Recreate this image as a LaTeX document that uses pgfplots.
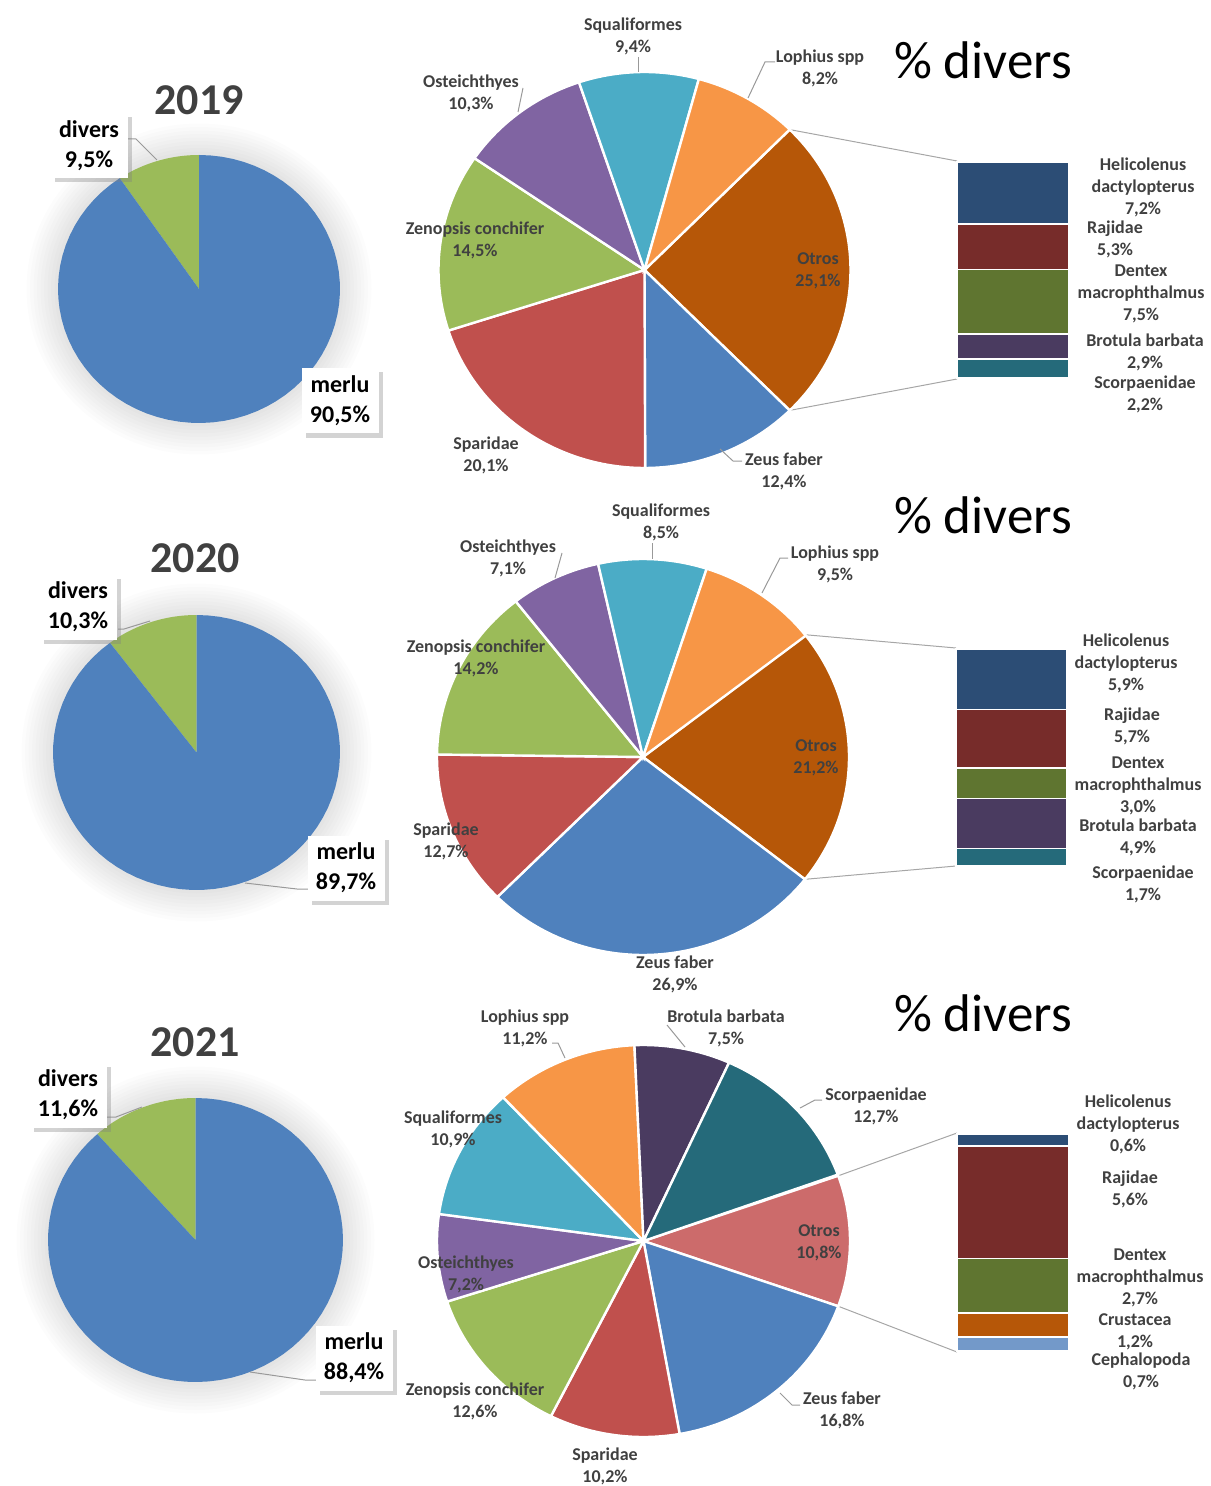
\documentclass[border=0pt]{standalone}
\usepackage{pgfplots}
\pgfplotsset{compat=1.18}
\usepackage{fontspec}
\setmainfont{Carlito}
\usetikzlibrary{shadows}

\definecolor{cBlue}{HTML}{4F81BD}
\definecolor{cRed}{HTML}{C0504D}
\definecolor{cGreen}{HTML}{9BBB59}
\definecolor{cPurple}{HTML}{8064A2}
\definecolor{cAqua}{HTML}{4BACC6}
\definecolor{cOrange}{HTML}{F79646}
\definecolor{cDkOrange}{HTML}{B65708}
\definecolor{cDkBlue}{HTML}{2C4D75}
\definecolor{cDkRed}{HTML}{772C2A}
\definecolor{cDkGreen}{HTML}{5F7530}
\definecolor{cDkPurple}{HTML}{4A3B60}
\definecolor{cDkTeal}{HTML}{256A7A}
\definecolor{cPink}{HTML}{CC6B6B}
\definecolor{cLtBlue}{HTML}{7399C9}
\definecolor{lbl}{HTML}{404040}

% slices drawn clockwise from #1 (degrees); #2 = value/colour list
\newcommand{\pieslices}[3]{%
  \xdef\cum{#1}%
  \foreach \v/\col in {#2}{%
    \pgfmathsetmacro\a{\cum}%
    \pgfmathsetmacro\b{\cum-3.6*\v}%
    \edef\tmp{\noexpand\addplot[fill=\col,#3,domain=\b:\a,samples=72]
      ({cos(x)},{sin(x)}) -- (axis cs:0,0) -- cycle;}%
    \tmp
    \xdef\cum{\b}%
  }%
}

\pgfplotsset{
  pieax/.style={scale only axis, hide axis, clip=false, anchor=center,
    xmin=-1, xmax=1, ymin=-1, ymax=1},
  barax/.style={scale only axis, hide axis, clip=false, anchor=north west,
    ybar stacked, xmin=-0.5, xmax=0.5, ymin=0,
    every axis plot/.append style={draw=white, line width=0.8pt}},
}

\tikzset{
  px/.style={x=0.5pt, y=-0.5pt},
  lab/.style={align=center, font=\bfseries\fontsize{9}{11}\selectfont, text=lbl, inner sep=0pt},
  box/.style={fill=white, align=center, font=\bfseries\fontsize{12}{15}\selectfont,
    minimum width=38.5pt, minimum height=32.5pt, inner sep=0pt,
    drop shadow={shadow xshift=2pt, shadow yshift=-2pt, opacity=0.35}},
  title/.style={font=\bfseries\fontsize{22}{26}\selectfont, text=lbl},
  big/.style={font=\fontsize{26.5}{30}\selectfont},
  leader/.style={draw=black!40, line width=0.5pt},
  conn/.style={draw=black!35, line width=0.5pt},
}

\newcommand{\glow}[4]{%
  \foreach \k in {1,...,9}
    \fill[black, opacity=0.011] (#1,#2) ellipse [x radius={#3+3.5*\k}, y radius={#4+3.5*\k}];
}

\begin{document}
\begin{tikzpicture}
\begin{scope}[px]
\path[use as bounding box] (0,0) rectangle (1210,1486);
\glow{199}{289}{141}{134}
\glow{196.5}{752.5}{143.5}{137.5}
\glow{195.5}{1240}{147.5}{142}
\draw[conn] (789.7,129.6) -- (957,161);
\draw[conn] (789.7,410.4) -- (957,379);
\draw[conn] (805,634.7) -- (956,648);
\draw[conn] (805,879.3) -- (956,866);
\draw[conn] (838.2,1175.8) -- (957,1133);
\draw[conn] (838.2,1306.2) -- (957,1352);
\end{scope}

% ================= 2019 =================
\begin{axis}[pieax, at={({199*0.5pt},{-289*0.5pt})}, width=141pt, height=134pt]
  \pieslices{124.2}{9.5/cGreen, 90.5/cBlue}{draw=none}
\end{axis}
\begin{axis}[pieax, at={({644.5*0.5pt},{-270*0.5pt})}, width=206pt, height=198pt]
  \pieslices{45.18}{25.1/cDkOrange, 12.4/cBlue, 20.1/cRed, 14.5/cGreen,
    10.3/cPurple, 9.4/cAqua, 8.2/cOrange}{draw=white, line width=1.2pt}
\end{axis}
\begin{axis}[barax, at={({957*0.5pt},{-162*0.5pt})}, width=56pt, height=108pt, bar width=56pt, ymax=25.1]
  \addplot[fill=cDkTeal] coordinates {(0,2.2)};
  \addplot[fill=cDkPurple] coordinates {(0,2.9)};
  \addplot[fill=cDkGreen] coordinates {(0,7.5)};
  \addplot[fill=cDkRed] coordinates {(0,5.3)};
  \addplot[fill=cDkBlue] coordinates {(0,7.2)};
\end{axis}

% ================= 2020 =================
\begin{axis}[pieax, at={({196.5*0.5pt},{-752.5*0.5pt})}, width=143.5pt, height=137.5pt]
  \pieslices{127.08}{10.3/cGreen, 89.7/cBlue}{draw=none}
\end{axis}
\begin{axis}[pieax, at={({643*0.5pt},{-757*0.5pt})}, width=206pt, height=198pt]
  \pieslices{38.16}{21.2/cDkOrange, 26.9/cBlue, 12.7/cRed, 14.2/cGreen,
    7.1/cPurple, 8.5/cAqua, 9.5/cOrange}{draw=white, line width=1.2pt}
\end{axis}
\begin{axis}[barax, at={({956*0.5pt},{-649*0.5pt})}, width=55.5pt, height=108.5pt, bar width=55.5pt, ymax=21.2]
  \addplot[fill=cDkTeal] coordinates {(0,1.7)};
  \addplot[fill=cDkPurple] coordinates {(0,4.9)};
  \addplot[fill=cDkGreen] coordinates {(0,3.0)};
  \addplot[fill=cDkRed] coordinates {(0,5.7)};
  \addplot[fill=cDkBlue] coordinates {(0,5.9)};
\end{axis}

% ================= 2021 =================
\begin{axis}[pieax, at={({195.5*0.5pt},{-1240*0.5pt})}, width=147.5pt, height=142pt]
  \pieslices{131.76}{11.6/cGreen, 88.4/cBlue}{draw=none}
\end{axis}
\begin{axis}[pieax, at={({643.5*0.5pt},{-1241*0.5pt})}, width=206.5pt, height=196pt]
  \pieslices{19.44}{10.8/cPink, 16.8/cBlue, 10.2/cRed, 12.6/cGreen,
    7.2/cPurple, 10.9/cAqua, 11.2/cOrange, 7.5/cDkPurple, 12.7/cDkTeal}{draw=white, line width=1.2pt}
\end{axis}
\begin{axis}[barax, at={({957*0.5pt},{-1134*0.5pt})}, width=56pt, height=108.5pt, bar width=56pt, ymax=10.8]
  \addplot[fill=cLtBlue] coordinates {(0,0.7)};
  \addplot[fill=cDkOrange] coordinates {(0,1.2)};
  \addplot[fill=cDkGreen] coordinates {(0,2.7)};
  \addplot[fill=cDkRed] coordinates {(0,5.6)};
  \addplot[fill=cDkBlue] coordinates {(0,0.6)};
\end{axis}

\begin{scope}[px]
% ---- 2019 labels
\node[title] at (199,100) {2019};
\draw[leader] (128,139) -- (136,139) -- (157,160);
\node[box] at (89,146) {divers\\9,5\%};
\node[box] at (340,401) {merlu\\90,5\%};
\draw[leader] (638,57) -- (638,72);
\draw[leader] (775,62) -- (765,62) -- (748,98);
\draw[leader] (523,88) -- (518,112);
\draw[leader] (742,461) -- (733,461) -- (720,449);
\node[lab] at (633,36) {Squaliformes\\9,4\%};
\node[lab] at (820,68) {Lophius spp\\8,2\%};
\node[lab] at (471,93.5) {Osteichthyes\\10,3\%};
\node[lab] at (475,240.5) {Zenopsis conchifer\\14,5\%};
\node[lab] at (818,270.5) {Otros\\25,1\%};
\node[lab] at (784,471.5) {Zeus faber\\12,4\%};
\node[lab] at (486,455.5) {Sparidae\\20,1\%};
\node[big] at (983,60) {\% divers};
\node[lab] at (1143,187) {Helicolenus\\dactylopterus\\7,2\%};
\node[lab] at (1115,239.5) {Rajidae\\5,3\%};
\node[lab] at (1141,293.5) {Dentex\\macrophthalmus\\7,5\%};
\node[lab] at (1145,352) {Brotula barbata\\2,9\%};
\node[lab] at (1145,394.5) {Scorpaenidae\\2,2\%};

% ---- 2020 labels
\node[title] at (195,558) {2020};
\draw[leader] (118,629) -- (124,629) -- (150,621);
\draw[leader] (245,883) -- (297,889) -- (308,889);
\node[box] at (78,607) {divers\\10,3\%};
\node[box] at (346,868) {merlu\\89,7\%};
\draw[leader] (652,543) -- (652,559);
\draw[leader] (788,558) -- (780,558) -- (762,593);
\draw[leader] (562,553) -- (555,578);
\node[lab] at (661,522) {Squaliformes\\8,5\%};
\node[lab] at (835,564) {Lophius spp\\9,5\%};
\node[lab] at (508,558.5) {Osteichthyes\\7,1\%};
\node[lab] at (476,658) {Zenopsis conchifer\\14,2\%};
\node[lab] at (816,758) {Otros\\21,2\%};
\node[lab] at (446,841) {Sparidae\\12,7\%};
\node[lab] at (675,974) {Zeus faber\\26,9\%};
\node[big] at (983,515) {\% divers};
\node[lab] at (1126,663.5) {Helicolenus\\dactylopterus\\5,9\%};
\node[lab] at (1132,726) {Rajidae\\5,7\%};
\node[lab] at (1138,786) {Dentex\\macrophthalmus\\3,0\%};
\node[lab] at (1138,837) {Brotula barbata\\4,9\%};
\node[lab] at (1143,884) {Scorpaenidae\\1,7\%};

% ---- 2021 labels
\node[title] at (195,1042) {2021};
\draw[leader] (107,1117) -- (116,1117) -- (142,1107);
\draw[leader] (250,1372) -- (305,1380) -- (316,1380);
\node[box] at (68,1095) {divers\\11,6\%};
\node[box] at (354,1358) {merlu\\88,4\%};
\draw[leader] (552,1043) -- (558,1043) -- (565,1058);
\draw[leader] (667,1025) -- (685,1047);
\draw[leader] (822,1100) -- (815,1100) -- (800,1108);
\draw[leader] (800,1405) -- (792,1405) -- (780,1393);
\node[lab] at (525,1028) {Lophius spp\\11,2\%};
\node[lab] at (726,1028) {Brotula barbata\\7,5\%};
\node[lab] at (876,1106.5) {Scorpaenidae\\12,7\%};
\node[lab] at (453,1129) {Squaliformes\\10,9\%};
\node[lab] at (466,1274) {Osteichthyes\\7,2\%};
\node[lab] at (819,1243) {Otros\\10,8\%};
\node[lab] at (475,1401) {Zenopsis conchifer\\12,6\%};
\node[lab] at (605,1466) {Sparidae\\10,2\%};
\node[lab] at (842,1410.5) {Zeus faber\\16,8\%};
\node[big] at (983,1013) {\% divers};
\node[lab] at (1128,1124.5) {Helicolenus\\dactylopterus\\0,6\%};
\node[lab] at (1130,1189) {Rajidae\\5,6\%};
\node[lab] at (1140,1278) {Dentex\\macrophthalmus\\2,7\%};
\node[lab] at (1135,1331.5) {Crustacea\\1,2\%};
\node[lab] at (1141,1371.5) {Cephalopoda\\0,7\%};
\end{scope}
\end{tikzpicture}
\end{document}
